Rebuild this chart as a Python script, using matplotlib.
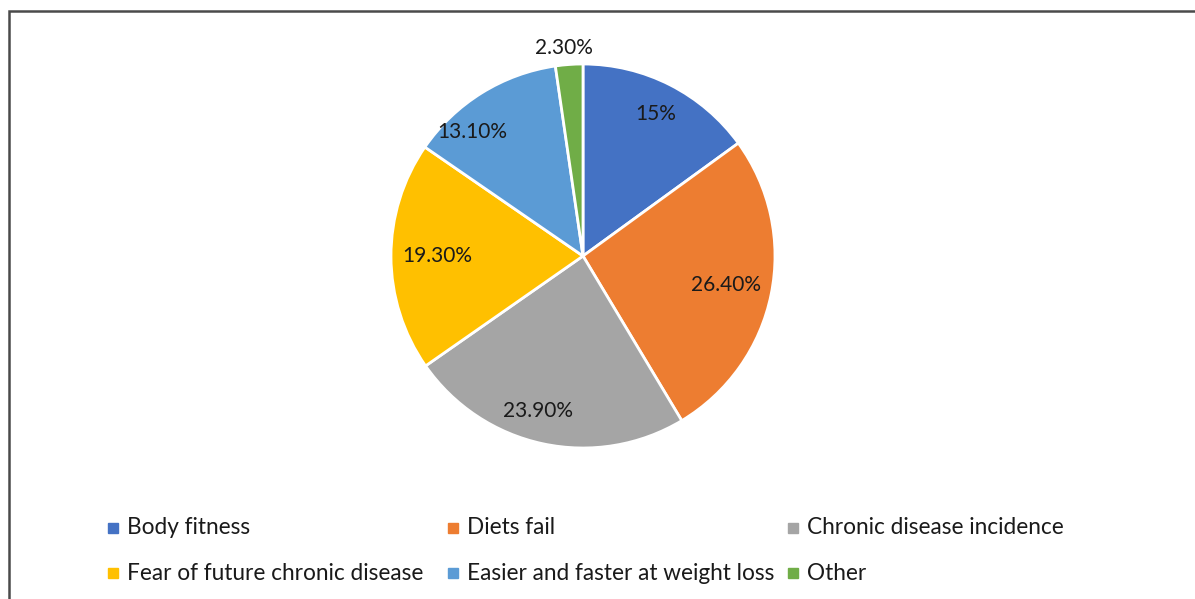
import numpy as np
import matplotlib.pyplot as plt
from matplotlib.patches import Rectangle

reasons = ['Body fitness', 'Diets fail', 'Chronic disease incidence',
           'Fear of future chronic disease', 'Easier and faster at weight loss', 'Other']
shares = [15, 26.4, 23.9, 19.3, 13.1, 2.3]
share_labels = ['15%', '26.40%', '23.90%', '19.30%', '13.10%', '2.30%']
colors = ['#4472C4', '#ED7D31', '#A5A5A5', '#FFC000', '#5B9BD5', '#70AD47']
# label placement: radius fraction and angle nudge (deg) per slice
label_dist = [0.83, 0.76, 0.84, 0.76, 0.865, 1.09]
label_turn = [0, 0, -4, 0, 10, 1]

plt.rcParams['font.family'] = ['Lato', 'DejaVu Sans']
W, H = 1195, 599
fig = plt.figure(figsize=(W / 100, H / 100), dpi=100)

# outer frame (runs off the right and bottom edges)
fig.add_artist(Rectangle((8.5 / W, -0.1), 1.2, 1 - 11 / H + 0.1, transform=fig.transFigure,
                         fill=False, edgecolor='#4a4a4a', linewidth=1.8))

# pie axes: centre (583, 256) px, radius 192 px
cx, cy, r = 583, 256, 192
half = 1.1 * r
ax = fig.add_axes([(cx - half) / W, (H - cy - half) / H, 2 * half / W, 2 * half / H])
wedges, _ = ax.pie(shares, colors=colors, startangle=90, counterclock=False,
                   wedgeprops=dict(edgecolor='white', linewidth=2))
ax.set_xlim(-1.1, 1.1)
ax.set_ylim(-1.1, 1.1)
ax.set_aspect('equal')
ax.axis('off')

for w, txt, d, t in zip(wedges, share_labels, label_dist, label_turn):
    ang = np.deg2rad((w.theta1 + w.theta2) / 2 + t)
    ax.text(d * np.cos(ang), d * np.sin(ang), txt, ha='center', va='center',
            fontsize=15, color='#1a1a1a')

# legend, three entries per row
for i, (name, c) in enumerate(zip(reasons, colors)):
    row, col = divmod(i, 3)
    x = (113 + col * 340) / W
    y = 1 - (528 + row * 45) / H
    fig.add_artist(Rectangle((x - 5 / W, y - 5 / H), 10 / W, 10 / H,
                             transform=fig.transFigure, color=c))
    fig.text(x + 14 / W, y, name, ha='left', va='center', fontsize=16.3, color='#1a1a1a')

fig.savefig('out.png', dpi=100)
